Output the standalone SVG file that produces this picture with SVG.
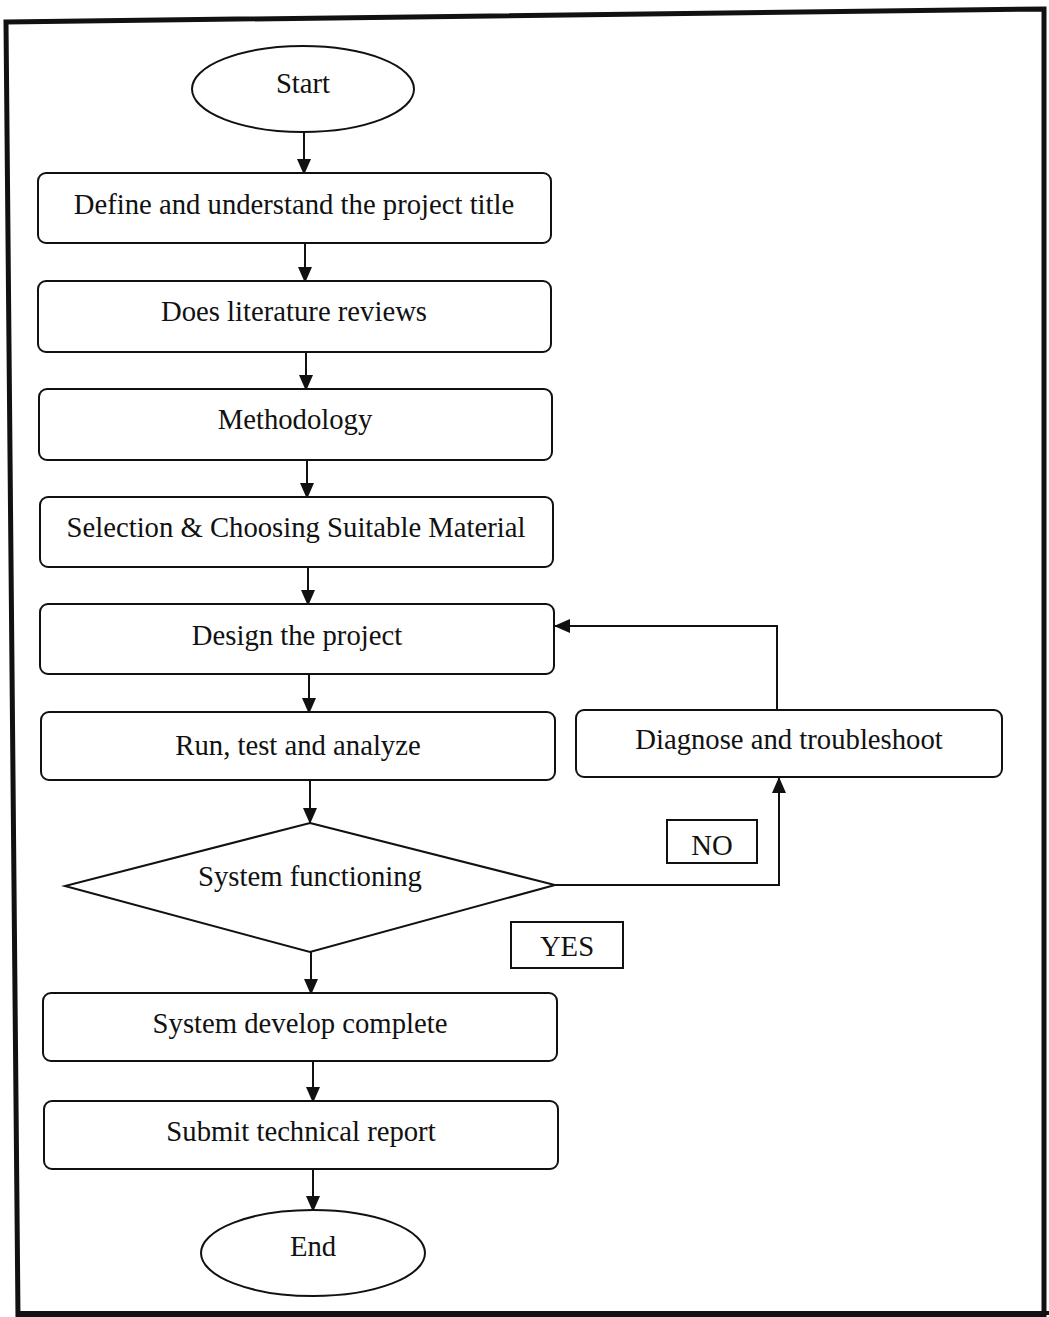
<svg xmlns="http://www.w3.org/2000/svg" width="1049" height="1317" viewBox="0 0 1049 1317">
<style>
.n{fill:#fff;stroke:#111;stroke-width:2}
.t{font-family:"Liberation Serif","Times New Roman",serif;font-size:28.7px;fill:#111;text-anchor:middle;dominant-baseline:central}
.c{fill:none;stroke:#111;stroke-width:2}
</style>
<defs>
<marker id="ah" markerWidth="16" markerHeight="14" refX="15" refY="7" orient="auto" markerUnits="userSpaceOnUse">
<path d="M0,0 L16,7 L0,14 Z" fill="#111"/>
</marker>
</defs>
<rect width="1049" height="1317" fill="#fff"/>
<polygon points="6,22 1044,9 1044,1317 18,1317" fill="none" stroke="#111" stroke-width="5"/>
<line x1="18" y1="1313" x2="1049" y2="1313" stroke="#111" stroke-width="4"/>
<g id="connectors">
<line class="c" x1="304" y1="132" x2="304" y2="174" marker-end="url(#ah)"/>
<line class="c" x1="305" y1="243" x2="305" y2="282" marker-end="url(#ah)"/>
<line class="c" x1="306" y1="352" x2="306" y2="390" marker-end="url(#ah)"/>
<line class="c" x1="307" y1="460" x2="307" y2="498" marker-end="url(#ah)"/>
<line class="c" x1="308" y1="567" x2="308" y2="605" marker-end="url(#ah)"/>
<line class="c" x1="309" y1="674" x2="309" y2="713" marker-end="url(#ah)"/>
<line class="c" x1="310" y1="780" x2="310" y2="823" marker-end="url(#ah)"/>
<line class="c" x1="311" y1="952" x2="311" y2="994" marker-end="url(#ah)"/>
<line class="c" x1="313" y1="1061" x2="313" y2="1102" marker-end="url(#ah)"/>
<line class="c" x1="313" y1="1169" x2="313" y2="1211" marker-end="url(#ah)"/>
<polyline class="c" points="555,885 779,885 779,778" marker-end="url(#ah)"/>
<polyline class="c" points="777,710 777,626 555,626" marker-end="url(#ah)"/>
</g>
<g id="start"><ellipse class="n" cx="303" cy="89" rx="111" ry="43"/><text class="t" x="303" y="83">Start</text></g>
<g id="define"><rect class="n" x="38" y="173" width="513" height="70" rx="8"/><text class="t" x="294" y="204">Define and understand the project title</text></g>
<g id="literature"><rect class="n" x="38" y="281" width="513" height="71" rx="8"/><text class="t" x="294" y="311">Does literature reviews</text></g>
<g id="methodology"><rect class="n" x="39" y="389" width="513" height="71" rx="8"/><text class="t" x="295" y="419">Methodology</text></g>
<g id="selection"><rect class="n" x="40" y="497" width="513" height="70" rx="8"/><text class="t" x="296" y="527">Selection &amp; Choosing Suitable Material</text></g>
<g id="design"><rect class="n" x="40" y="604" width="514" height="70" rx="8"/><text class="t" x="297" y="635">Design the project</text></g>
<g id="run"><rect class="n" x="41" y="712" width="514" height="68" rx="8"/><text class="t" x="298" y="745">Run, test and analyze</text></g>
<g id="diagnose"><rect class="n" x="576" y="710" width="426" height="67" rx="8"/><text class="t" x="789" y="739">Diagnose and troubleshoot</text></g>
<g id="decision"><polygon class="n" points="310,823 555,885 310,952 65,886"/><text class="t" x="310" y="876">System functioning</text></g>
<g id="no"><rect class="n" x="667" y="820" width="90" height="43"/><text class="t" x="712" y="845">NO</text></g>
<g id="yes"><rect class="n" x="511" y="922" width="112" height="46"/><text class="t" x="567" y="946">YES</text></g>
<g id="complete"><rect class="n" x="43" y="993" width="514" height="68" rx="8"/><text class="t" x="300" y="1023">System develop complete</text></g>
<g id="submit"><rect class="n" x="44" y="1101" width="514" height="68" rx="8"/><text class="t" x="301" y="1131">Submit technical report</text></g>
<g id="end"><ellipse class="n" cx="313" cy="1253" rx="112" ry="43"/><text class="t" x="313" y="1246">End</text></g>
</svg>
